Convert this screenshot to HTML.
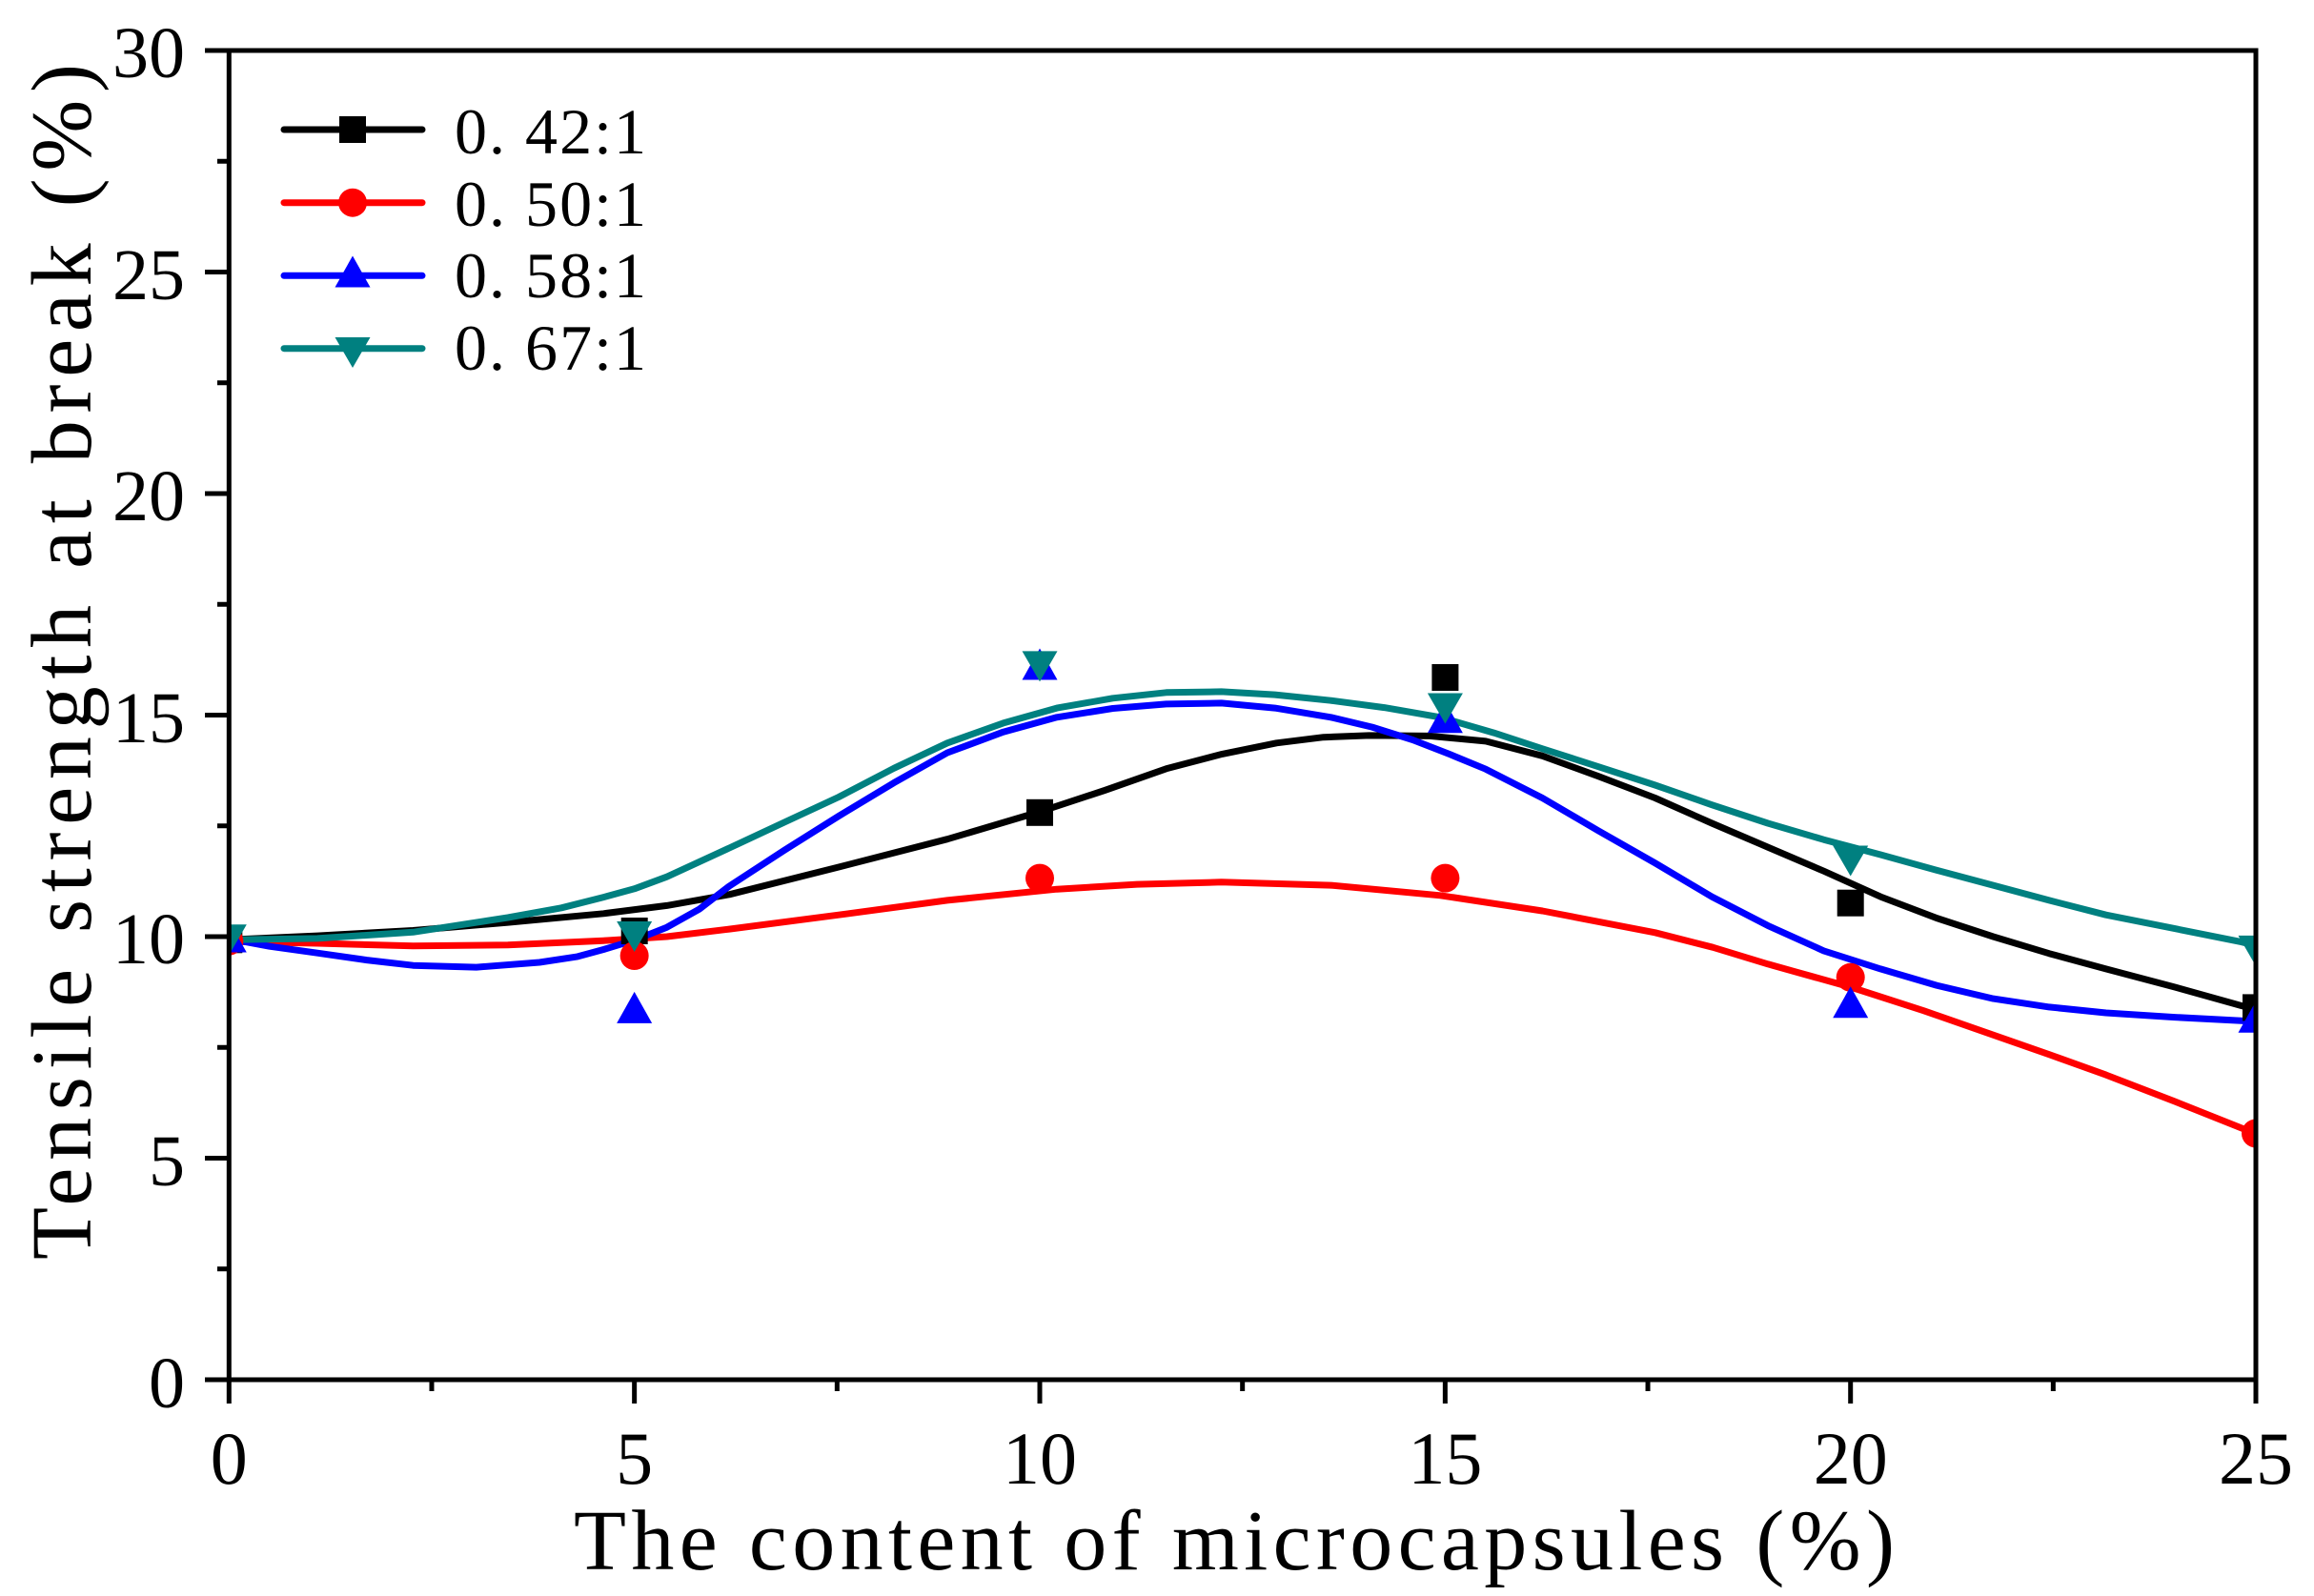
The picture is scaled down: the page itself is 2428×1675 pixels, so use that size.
<!DOCTYPE html>
<html>
<head>
<meta charset="utf-8">
<style>
  html,body{margin:0;padding:0;background:#fff;}
  svg{display:block;}
  text{font-family:"Liberation Serif","Noto Serif CJK SC",serif;fill:#000;}
</style>
</head>
<body>
<svg width="2428" height="1675" viewBox="0 0 2428 1675" xmlns="http://www.w3.org/2000/svg">
  <rect x="0" y="0" width="2428" height="1675" fill="#fff"/>
  <defs>
    <clipPath id="plot"><rect x="240.3" y="53" width="2126.7" height="1395"/></clipPath>
  </defs>

  <g clip-path="url(#plot)">
    <g fill="none" stroke-width="7" stroke-linejoin="round" stroke-linecap="round">
      <polyline stroke="#000000" points="240.3,986.3 333.0,982.1 433.4,976.5 532.9,968.1 633.3,958.8 699.7,950.4 765.2,938.8 880.0,910.0 994.0,880.7 1091.0,851.9 1159.1,829.5 1223.7,806.8 1282.4,791.4 1339.4,779.8 1388.7,773.7 1436.4,771.9 1500.2,772.4 1558.9,777.9 1618.4,793.3 1677.1,814.7 1736.7,837.5 1796.2,864.0 1854.9,889.1 1913.6,914.2 1973.2,941.1 2031.9,963.5 2091.4,983.0 2150.1,1000.7 2209.7,1016.9 2282.0,1036.0 2351.8,1055.5 2367.0,1059.3"/>
      <polyline stroke="#FF0000" points="240.3,988.1 333.0,990.0 433.4,992.8 532.9,991.8 633.3,987.2 699.7,983.0 765.2,975.1 880.0,960.2 994.0,944.9 1108.9,933.2 1193.1,928.1 1281.6,925.8 1396.4,929.1 1511.3,939.8 1618.4,956.0 1736.7,978.8 1797.1,994.2 1854.9,1011.8 1943.4,1036.5 2018.3,1060.7 2091.4,1086.2 2150.1,1106.7 2209.7,1128.1 2282.0,1156.0 2351.8,1183.9 2367.0,1189.9"/>
      <polyline stroke="#0000FF" points="240.3,985.3 282.8,993.2 333.0,1000.2 384.9,1007.6 433.4,1013.2 499.8,1015.1 566.1,1010.0 606.1,1003.9 633.3,996.5 665.65,986.7 699.7,973.2 733.7,954.2 765.2,930.0 823.0,892.3 880.0,856.5 937.9,821.6 994.0,790.0 1052.7,768.2 1108.9,752.8 1167.6,743.5 1223.7,738.9 1281.6,737.9 1337.7,743.1 1396.4,752.8 1439.8,763.1 1482.3,776.5 1520.6,791.4 1558.9,807.2 1618.4,837.5 1677.1,871.9 1736.7,905.8 1796.2,941.1 1854.9,971.4 1913.6,997.9 1973.2,1016.9 2031.9,1034.1 2091.4,1048.1 2150.1,1056.9 2209.7,1063.0 2282.0,1067.6 2351.8,1071.3 2367.0,1072.3"/>
      <polyline stroke="#008080" points="240.3,986.3 333.0,984.9 433.4,978.3 532.9,963.0 589.1,952.8 633.3,941.6 665.65,932.8 699.7,920.2 765.2,890.0 823.0,863.0 880.0,836.5 937.9,806.3 994.0,779.8 1052.7,758.9 1108.9,743.1 1167.6,732.8 1223.7,726.8 1281.6,725.9 1337.7,729.1 1396.4,735.2 1452.5,742.6 1511.3,752.8 1567.4,769.1 1618.4,785.8 1678.0,804.9 1736.7,824.0 1795.4,844.4 1854.9,864.0 1913.6,881.2 1973.2,897.0 2031.9,913.2 2091.4,929.1 2150.1,944.9 2209.7,960.2 2282.0,974.6 2351.8,988.6 2367.0,992.3"/>
    </g>

    <!-- black squares -->
    <g fill="#000000">
      <rect x="226.3" y="972.3" width="28" height="28"/>
      <rect x="651.7" y="963" width="28" height="28"/>
      <rect x="1077" y="838.8" width="28" height="28"/>
      <rect x="1502.4" y="697" width="28" height="28"/>
      <rect x="1927.7" y="933.7" width="28" height="28"/>
      <rect x="2353" y="1043.4" width="28" height="28"/>
    </g>
    <!-- red circles -->
    <g fill="#FF0000">
      <circle cx="240.3" cy="987.6" r="15"/>
      <circle cx="665.65" cy="1003" r="15"/>
      <circle cx="1091" cy="921.6" r="15"/>
      <circle cx="1516.4" cy="921.6" r="15"/>
      <circle cx="1941.7" cy="1025.8" r="15"/>
      <circle cx="2367" cy="1189.5" r="15"/>
    </g>
    <!-- blue up triangles -->
    <g fill="#0000FF">
      <polygon points="240.3,966.5 221.8,999.5 258.8,999.5"/>
      <polygon points="665.65,1040.9 647.15,1073.9 684.15,1073.9"/>
      <polygon points="1091,680.5 1072.5,713.5 1109.5,713.5"/>
      <polygon points="1516.4,736.3 1497.9,769.3 1534.9,769.3"/>
      <polygon points="1941.7,1035.3 1923.2,1068.3 1960.2,1068.3"/>
      <polygon points="2367,1050.7 2348.5,1083.7 2385.5,1083.7"/>
    </g>
    <!-- teal down triangles -->
    <g fill="#008080">
      <polygon points="221.8,970.3 258.8,970.3 240.3,1002.3"/>
      <polygon points="647.15,967 684.15,967 665.65,999"/>
      <polygon points="1072.5,683.4 1109.5,683.4 1091,715.4"/>
      <polygon points="1497.9,727.5 1534.9,727.5 1516.4,759.5"/>
      <polygon points="1923.2,887.5 1960.2,887.5 1941.7,919.5"/>
      <polygon points="2348.5,981.9 2385.5,981.9 2367,1013.9"/>
    </g>
  </g>

  <!-- axes frame -->
  <g stroke="#000" stroke-width="5" fill="none">
    <line x1="240.3" y1="50.5" x2="240.3" y2="1450.5"/>
    <line x1="2367" y1="50.5" x2="2367" y2="1450.5"/>
    <line x1="237.8" y1="53" x2="2369.5" y2="53"/>
    <line x1="237.8" y1="1448" x2="2369.5" y2="1448"/>
    <!-- left major ticks -->
    <line x1="215" y1="1448" x2="240" y2="1448"/>
    <line x1="215" y1="1215.5" x2="240" y2="1215.5"/>
    <line x1="215" y1="983" x2="240" y2="983"/>
    <line x1="215" y1="750.5" x2="240" y2="750.5"/>
    <line x1="215" y1="518" x2="240" y2="518"/>
    <line x1="215" y1="285.5" x2="240" y2="285.5"/>
    <line x1="215" y1="53" x2="240" y2="53"/>
    <!-- left minor ticks -->
    <line x1="228" y1="1331.75" x2="240" y2="1331.75"/>
    <line x1="228" y1="1099.25" x2="240" y2="1099.25"/>
    <line x1="228" y1="866.75" x2="240" y2="866.75"/>
    <line x1="228" y1="634.25" x2="240" y2="634.25"/>
    <line x1="228" y1="401.75" x2="240" y2="401.75"/>
    <line x1="228" y1="169.25" x2="240" y2="169.25"/>
    <!-- bottom major ticks -->
    <line x1="240.3" y1="1448" x2="240.3" y2="1473"/>
    <line x1="665.65" y1="1448" x2="665.65" y2="1473"/>
    <line x1="1091" y1="1448" x2="1091" y2="1473"/>
    <line x1="1516.35" y1="1448" x2="1516.35" y2="1473"/>
    <line x1="1941.7" y1="1448" x2="1941.7" y2="1473"/>
    <line x1="2367" y1="1448" x2="2367" y2="1473"/>
    <!-- bottom minor ticks -->
    <line x1="452.98" y1="1448" x2="452.98" y2="1460"/>
    <line x1="878.33" y1="1448" x2="878.33" y2="1460"/>
    <line x1="1303.68" y1="1448" x2="1303.68" y2="1460"/>
    <line x1="1729.03" y1="1448" x2="1729.03" y2="1460"/>
    <line x1="2154.35" y1="1448" x2="2154.35" y2="1460"/>
  </g>

  <!-- y tick labels -->
  <g font-size="76" text-anchor="end">
    <text x="194" y="1477">0</text>
    <text x="194" y="1244">5</text>
    <text x="194" y="1011">10</text>
    <text x="194" y="779">15</text>
    <text x="194" y="546">20</text>
    <text x="194" y="314">25</text>
    <text x="194" y="81">30</text>
  </g>
  <!-- x tick labels -->
  <g font-size="78" text-anchor="middle">
    <text x="240.3" y="1557">0</text>
    <text x="665.65" y="1557">5</text>
    <text x="1091" y="1557">10</text>
    <text x="1516.35" y="1557">15</text>
    <text x="1941.7" y="1557">20</text>
    <text x="2367" y="1557">25</text>
  </g>

  <!-- axis titles -->
  <text x="602" y="1647" font-size="90" textLength="1386" lengthAdjust="spacing">The content of microcapsules (%)</text>
  <text transform="translate(95 1322) rotate(-90)" x="0" y="0" font-size="90" textLength="1255" lengthAdjust="spacing">Tensile strength at break (%)</text>

  <!-- legend -->
  <g stroke-width="7" stroke-linecap="round">
    <line x1="298" y1="136" x2="443" y2="136" stroke="#000000"/>
    <line x1="298" y1="212.7" x2="443" y2="212.7" stroke="#FF0000"/>
    <line x1="298" y1="289.3" x2="443" y2="289.3" stroke="#0000FF"/>
    <line x1="298" y1="365.7" x2="443" y2="365.7" stroke="#008080"/>
  </g>
  <rect x="356" y="122" width="28" height="28" fill="#000000"/>
  <circle cx="370" cy="212.7" r="15" fill="#FF0000"/>
  <polygon points="370,268.5 351.5,301.5 388.5,301.5" fill="#0000FF"/>
  <polygon points="351.5,354 388.5,354 370,386" fill="#008080"/>
  <g font-size="68">
    <text x="477" y="161" textLength="201" lengthAdjust="spacing">0. 42:1</text>
    <text x="477" y="237" textLength="201" lengthAdjust="spacing">0. 50:1</text>
    <text x="477" y="312" textLength="201" lengthAdjust="spacing">0. 58:1</text>
    <text x="477" y="388" textLength="201" lengthAdjust="spacing">0. 67:1</text>
  </g>
</svg>
</body>
</html>
